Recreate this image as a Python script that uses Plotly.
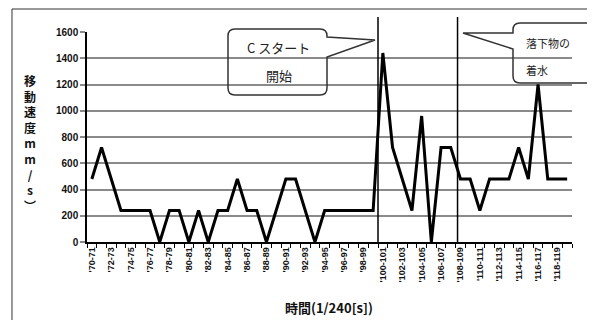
import plotly.graph_objects as go

categories = ["'70-71", "'71-72", "'72-73", "'73-74", "'74-75", "'75-76", "'76-77", "'77-78", "'78-79", "'79-80",
              "'80-81", "'81-82", "'82-83", "'83-84", "'84-85", "'85-86", "'86-87", "'87-88", "'88-89", "'89-90",
              "'90-91", "'91-92", "'92-93", "'93-94", "'94-95", "'95-96", "'96-97", "'97-98", "'98-99", "'99-100",
              "'100-101", "'101-102", "'102-103", "'103-104", "'104-105", "'105-106", "'106-107", "'107-108", "'108-109", "'109-110",
              "'110-111", "'111-112", "'112-113", "'113-114", "'114-115", "'115-116", "'116-117", "'117-118", "'118-119", "'119-120"]
speed = [480, 720, 480, 240, 240, 240, 240, 0, 240, 240,
         0, 240, 0, 240, 240, 480, 240, 240, 0, 240,
         480, 480, 240, 0, 240, 240, 240, 240, 240, 240,
         1440, 720, 480, 240, 960, 0, 720, 720, 480, 480,
         240, 480, 480, 480, 720, 480, 1200, 480, 480, 480]
y_ticks = [0, 200, 400, 600, 800, 1000, 1200, 1400, 1600]
event_positions = [29.5, 37.7]
callout1_lines = ["C スタート", "開始"]
callout2_lines = ["落下物の", "着水"]
y_title = ["移", "動", "速", "度", "m", "m", "/", "s", "︶"]
x_title = "時間(1/240[s])"

OFF = 8  # page body margin offset
W, H = 595 - OFF, 320 - OFF
L, R, T, B = 87 - OFF, 572 - OFF, 32 - OFF, 242 - OFF


def X(px):
    return (px - OFF - L) / (R - L)


def Y(py):
    return (B - (py - OFF)) / (B - T)


def P(px, py):
    return f"{X(px):.5f},{Y(py):.5f}"


xs = list(range(len(categories)))

fig = go.Figure()
fig.add_trace(go.Scatter(x=xs, y=speed, mode="lines",
                         line=dict(color="black", width=3), hoverinfo="skip",
                         showlegend=False))

shapes = []
# outer frame
shapes.append(dict(type="path", xref="paper", yref="paper",
                   path=f"M {P(12, 340)} L {P(12, 9)} L {P(592, 9)} L {P(592, 340)}",
                   line=dict(color="#333", width=1)))
# event vertical lines
for ev in event_positions:
    shapes.append(dict(type="line", xref="x", yref="paper", x0=ev, x1=ev,
                       y0=0, y1=Y(17), line=dict(color="black", width=1.5)))

r = 7
path1 = (f"M {P(228 + r, 29)} L {P(327 - r, 29)} Q {P(327, 29)} {P(327, 29 + r)} "
         f"L {P(327, 37)} L {P(375, 40)} L {P(327, 57)} L {P(327, 95 - r)} "
         f"Q {P(327, 95)} {P(327 - r, 95)} L {P(228 + r, 95)} Q {P(228, 95)} {P(228, 95 - r)} "
         f"L {P(228, 29 + r)} Q {P(228, 29)} {P(228 + r, 29)} Z")
shapes.append(dict(type="path", xref="paper", yref="paper", path=path1,
                   line=dict(color="#333", width=1.5)))
path2 = (f"M {P(615, 23)} L {P(513 + r, 23)} Q {P(513, 23)} {P(513, 23 + r)} "
         f"L {P(513, 33)} L {P(463, 33)} L {P(513, 49)} L {P(513, 83 - r)} "
         f"Q {P(513, 83)} {P(513 + r, 83)} L {P(615, 83)}")
shapes.append(dict(type="path", xref="paper", yref="paper", path=path2,
                   line=dict(color="#333", width=1.5)))

annotations = []
cfont1 = dict(family="Noto Sans CJK JP", size=13, color="#222")
cfont2 = dict(family="Noto Sans CJK JP", size=11, color="#222")
annotations.append(dict(xref="paper", yref="paper", x=X(278), y=Y(48), text=callout1_lines[0],
                        showarrow=False, font=cfont1, xanchor="center", yanchor="middle"))
annotations.append(dict(xref="paper", yref="paper", x=X(279), y=Y(75), text=callout1_lines[1],
                        showarrow=False, font=cfont1, xanchor="center", yanchor="middle"))
annotations.append(dict(xref="paper", yref="paper", x=X(524), y=Y(43), text=callout2_lines[0],
                        showarrow=False, font=cfont2, xanchor="left", yanchor="middle"))
annotations.append(dict(xref="paper", yref="paper", x=X(524), y=Y(70), text=callout2_lines[1],
                        showarrow=False, font=cfont2, xanchor="left", yanchor="middle"))
annotations.append(dict(xref="paper", yref="paper", x=X(30), y=Y(143),
                        text="<br>".join(f"<b>{c}</b>" for c in y_title),
                        showarrow=False, xanchor="center", yanchor="middle",
                        font=dict(family="Noto Sans CJK JP", size=12, color="#111")))
annotations.append(dict(xref="paper", yref="paper", x=X(329), y=Y(307), text=f"<b>{x_title}</b>",
                        showarrow=False, xanchor="center", yanchor="middle",
                        font=dict(family="Noto Sans CJK JP", size=13, color="#111")))

fig.update_layout(
    width=W, height=H,
    margin=dict(l=L, r=W - R, t=T, b=H - B, pad=0),
    paper_bgcolor="white", plot_bgcolor="white",
    shapes=shapes, annotations=annotations,
    xaxis=dict(range=[-0.5, len(categories) - 0.5], showgrid=False, zeroline=False,
               showline=True, linecolor="black", linewidth=1.5,
               tickmode="array", tickvals=xs[::2], ticktext=categories[::2],
               tickangle=-90, ticks="", ticklen=0,
               tickfont=dict(family="Liberation Sans", size=9, color="#111", weight="bold"),
               minor=dict(ticks="outside", tick0=-0.5, dtick=1, ticklen=4,
                          tickcolor="black", tickwidth=1, showgrid=False)),
    yaxis=dict(range=[0, 1600], tickmode="array", tickvals=y_ticks,
               showgrid=True, gridcolor="#8a8a8a", gridwidth=2,
               zeroline=False, showline=True, linecolor="black", linewidth=1.5,
               ticks="outside", ticklen=5, tickcolor="#8a8a8a", tickwidth=2,
               tickfont=dict(family="Liberation Sans", size=10, color="#111", weight="bold")),
)

fig.write_html("out.html")
